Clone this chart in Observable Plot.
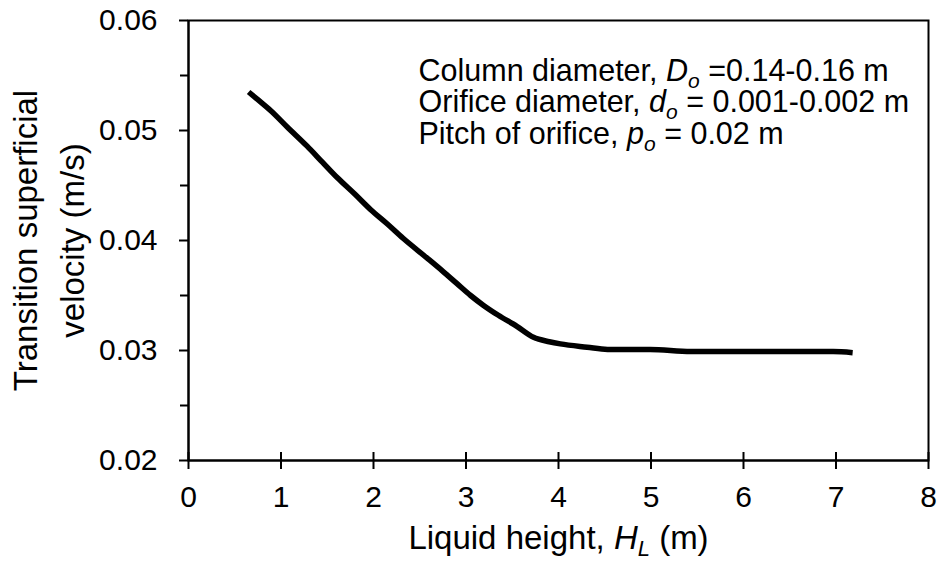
<!DOCTYPE html>
<html>
<head>
<meta charset="utf-8">
<script src="https://cdn.jsdelivr.net/npm/d3@7"></script>
<script src="https://cdn.jsdelivr.net/npm/@observablehq/plot@0.6"></script>
<style>
  html, body { margin: 0; padding: 0; background: #fff; }
  svg { font-family: "Liberation Sans", Arial, sans-serif; }
</style>
</head>
<body>
<div id="chart"></div>
<script>
// ---- data ----
const liquidHeight = [0.65, 0.75, 0.89, 1.07, 1.28, 1.45, 1.61, 1.80, 1.97, 2.15, 2.32, 2.58, 2.75, 2.90, 3.05, 3.19, 3.35, 3.55, 3.73, 3.90, 4.02, 4.31, 4.53, 4.99, 5.43, 6.00, 6.50, 6.97, 7.18];
const transitionVelocity = [0.0535, 0.0528, 0.0518, 0.0503, 0.0486, 0.0471, 0.0457, 0.0442, 0.0428, 0.0415, 0.0402, 0.0384, 0.0372, 0.0361, 0.0350, 0.0341, 0.0332, 0.0322, 0.0312, 0.0308, 0.0306, 0.0303, 0.0301, 0.0301, 0.0299, 0.0299, 0.0299, 0.0299, 0.0298];
const xTicks = [0, 1, 2, 3, 4, 5, 6, 7, 8];
const yMajorTicks = [0.02, 0.03, 0.04, 0.05, 0.06];
const yMinorTicks = [0.025, 0.035, 0.045, 0.055];
const yLabel = "Transition superficial\nvelocity (m/s)";
// rich-text segments: [text, style] style: "" normal, "i" italic, "is" italic subscript
const xLabelSegs = [["Liquid height, ", ""], ["H", "i"], ["L", "is"], [" (m)", ""]];
const annotationSegs = [
  [["Column diameter, ", ""], ["D", "i"], ["o", "is"], [" =0.14-0.16 m", ""]],
  [["Orifice diameter, ", ""], ["d", "i"], ["o", "is"], [" = 0.001-0.002 m", ""]],
  [["Pitch of orifice, ", ""], ["p", "i"], ["o", "is"], [" = 0.02 m", ""]]
];

const data = liquidHeight.map((h, i) => ({h, v: transitionVelocity[i]}));
const plain = segs => segs.map(s => s[0]).join("");

const W = 938, H = 569;
const mL = 188, mR = 10, mT = 20, mB = 109;
const FS = 30, TITLE_FS = 33, ANNOT_FS = 30.5;
const annotBaselines = [60, 91.5, 123];

const chart = Plot.plot({
  width: W, height: H,
  marginLeft: mL, marginRight: mR, marginTop: mT, marginBottom: mB,
  style: {fontFamily: '"Liberation Sans", Arial, sans-serif', background: "#fff", color: "#000"},
  x: {domain: [0, 8], label: null},
  y: {domain: [0.02, 0.06], label: null},
  marks: [
    Plot.frame({stroke: "#000", strokeWidth: 2}),
    // y axis ticks (outward) + labels
    Plot.axisY({ticks: yMajorTicks, tickSize: 9, tickPadding: 22, strokeWidth: 2, fontSize: FS, tickFormat: d3.format(".2f"), label: null}),
    Plot.axisY({ticks: yMinorTicks, tickSize: 8, strokeWidth: 2, tickFormat: () => "", label: null}),
    // x axis ticks crossing the axis
    Plot.axisX({ticks: xTicks, tickSize: 17, dy: -8, strokeWidth: 2, tickFormat: () => "", label: null}),
    Plot.axisX({ticks: xTicks, tickSize: 0, tickPadding: 25, fontSize: FS, tickFormat: d3.format("d"), label: null}),
    Plot.ruleX([0], {stroke: "#000", strokeWidth: 2}),
    Plot.ruleY([0.02], {stroke: "#000", strokeWidth: 2}),
    // data line
    Plot.line(data, {x: "h", y: "v", stroke: "#000", strokeWidth: 5.5, strokeLinejoin: "round", strokeLinecap: "butt", curve: "monotone-x"}),
    // y axis title
    Plot.text([yLabel], {frameAnchor: "left", rotate: -90, dx: -143, fontSize: TITLE_FS, lineHeight: 1.42, textAnchor: "middle", lineAnchor: "middle", fill: "#000"}),
    // x axis title
    Plot.text([plain(xLabelSegs)], {frameAnchor: "bottom", dy: 88, fontSize: TITLE_FS, textAnchor: "middle", lineAnchor: "bottom", fill: "#000"}),
    // annotation
    ...annotationSegs.map((segs, i) => Plot.text([plain(segs)], {frameAnchor: "top-left", dx: 230, dy: annotBaselines[i], fontSize: ANNOT_FS, textAnchor: "start", lineAnchor: "bottom", fill: "#000"}))
  ]
});

// Convert plain strings into rich text (italic + subscript) as real text
function richify(svg, segs, fontSize) {
  const target = plain(segs);
  d3.select(svg).selectAll("text").each(function() {
    if (this.textContent !== target) return;
    const t = d3.select(this);
    t.text(null);
    const shift = Math.round(fontSize * 0.22);
    let shifted = false;
    for (const [txt, st] of segs) {
      const sp = t.append("tspan").text(txt);
      if (st.includes("i")) sp.attr("font-style", "italic");
      if (st.includes("s")) {
        sp.attr("font-size", Math.round(fontSize * 0.68)).attr("dy", shift);
        shifted = true;
      } else if (shifted) {
        sp.attr("dy", -shift);
        shifted = false;
      }
    }
  });
}
richify(chart, xLabelSegs, TITLE_FS);
annotationSegs.forEach(s => richify(chart, s, ANNOT_FS));

document.getElementById("chart").appendChild(chart);
</script>
</body>
</html>
